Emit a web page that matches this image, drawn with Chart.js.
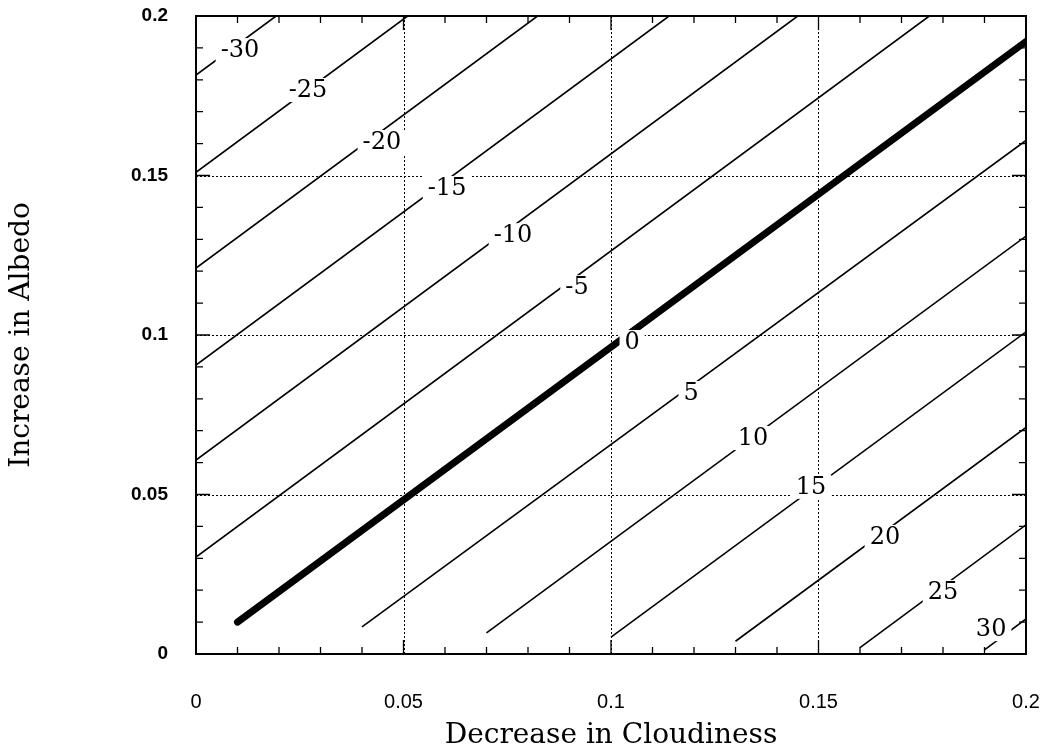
<!DOCTYPE html>
<html>
<head>
<meta charset="utf-8">
<script src="https://cdn.jsdelivr.net/npm/chart.js@4/dist/chart.umd.min.js"></script>
<style>
  body { margin: 0; background: #fff; }
  canvas { display: block; }
</style>
</head>
<body>
<canvas id="graf" width="1044" height="750"></canvas>
<script>
// contour levels and the ends of each contour line
const levels = [-30, -25, -20, -15, -10, -5, 0, 5, 10, 15, 20, 25, 30];
const startX = [0, 0, 0, 0, 0, 0, 0.01, 0.04, 0.07, 0.10, 0.13, 0.16, 0.19];
const startY = [0.1815, 0.151, 0.121, 0.0906, 0.0608, 0.0304, 0.01, 0.0085, 0.0066, 0.0053, 0.004, 0.002, 0.0013];
const endX = [0.0193, 0.051, 0.0823, 0.114, 0.145, 0.1767, 0.2, 0.2, 0.2, 0.2, 0.2, 0.2, 0.2];
const endY = [0.2, 0.2, 0.2, 0.2, 0.2, 0.2, 0.192, 0.161, 0.131, 0.101, 0.071, 0.0405, 0.011];

// where the level labels sit
const labelX = [0.0106, 0.027, 0.0448, 0.0605, 0.0764, 0.0918, 0.1051, 0.1193, 0.1342, 0.1482, 0.166, 0.18, 0.1916];
const labelY = [0.1893, 0.1768, 0.1605, 0.1461, 0.1313, 0.115, 0.0978, 0.0818, 0.0677, 0.0524, 0.0367, 0.0194, 0.0078];

// axes
const xTickValues = [0, 0.05, 0.1, 0.15, 0.2];
const xTickLabels = ["0", "0.05", "0.1", "0.15", "0.2"];
const yTickValues = [0, 0.05, 0.1, 0.15, 0.2];
const yTickLabels = ["0", "0.05", "0.1", "0.15", "0.2"];
const gridValues = [0.05, 0.1, 0.15];
const minorTicks = [0.01, 0.02, 0.03, 0.04, 0.06, 0.07, 0.08, 0.09, 0.11, 0.12, 0.13, 0.14, 0.16, 0.17, 0.18, 0.19];

const datasets = levels.map((v, i) => ({
    data: [{x: startX[i], y: startY[i]}, {x: endX[i], y: endY[i]}],
    showLine: true,
    pointRadius: 0,
    borderColor: "#000",
    borderWidth: v == 0 ? 7 : 1.6,     // nollinjen är tjock
    borderCapStyle: v == 0 ? "round" : "butt"
}));

const frame = {
    id: "frame",
    beforeDatasetsDraw(chart) {          // prickade rutnätslinjer
        const {ctx, chartArea: a, scales: {x, y}} = chart;
        ctx.save();
        ctx.strokeStyle = "#000";
        ctx.lineWidth = 1;
        ctx.setLineDash([2, 2]);
        ctx.beginPath();
        gridValues.forEach(v => {
            const px = Math.round(x.getPixelForValue(v)) + 0.5;
            ctx.moveTo(px, a.top); ctx.lineTo(px, a.bottom);
            const py = Math.round(y.getPixelForValue(v)) + 0.5;
            ctx.moveTo(a.left, py); ctx.lineTo(a.right, py);
        });
        ctx.stroke();
        ctx.restore();
    },
    afterDatasetsDraw(chart) {
        const {ctx, chartArea: a, scales: {x, y}} = chart;
        ctx.save();
        // level labels with a white gap behind them
        ctx.font = "24px 'DejaVu Serif'";
        ctx.textAlign = "center";
        ctx.textBaseline = "middle";
        levels.forEach((v, i) => {
            const t = String(v);
            const px = x.getPixelForValue(labelX[i]);
            const py = y.getPixelForValue(labelY[i]);
            const w = ctx.measureText(t).width;
            ctx.fillStyle = "#fff";
            ctx.fillRect(px - w / 2 - 5, py - 12, w + 10, 24);
            ctx.fillStyle = "#000";
            ctx.fillText(t, px, py + 1);
        });
        // ticks on all four sides, pointing inwards
        ctx.strokeStyle = "#000";
        ctx.lineWidth = 1.3;
        ctx.beginPath();
        const tick = (v, len) => {
            const px = x.getPixelForValue(v);
            ctx.moveTo(px, a.bottom); ctx.lineTo(px, a.bottom - len);
            ctx.moveTo(px, a.top); ctx.lineTo(px, a.top + len);
            const py = y.getPixelForValue(v);
            ctx.moveTo(a.left, py); ctx.lineTo(a.left + len, py);
            ctx.moveTo(a.right, py); ctx.lineTo(a.right - len, py);
        };
        minorTicks.forEach(v => tick(v, 7));
        gridValues.forEach(v => tick(v, 14));
        ctx.stroke();
        // frame
        ctx.lineWidth = 2;
        ctx.strokeRect(a.left, a.top, a.right - a.left, a.bottom - a.top);
        ctx.restore();
    }
};

// tar bort den extra marginalen som skalorna själva lägger till
function noPad(s) {
    s.paddingLeft = 0; s.paddingRight = 0; s.paddingTop = 0; s.paddingBottom = 0;
}

new Chart("graf", {
    type: "scatter",
    data: {datasets: datasets},
    options: {
        responsive: false,
        animation: false,
        layout: {padding: {left: 0, right: 18, top: 16, bottom: 0}},
        plugins: {legend: {display: false}, tooltip: {enabled: false}},
        scales: {
            x: {
                type: "linear", min: 0, max: 0.2,
                grid: {display: false, drawTicks: false},
                border: {display: false},
                afterBuildTicks: s => { s.ticks = xTickValues.map(v => ({value: v})); },
                afterFit: s => { s.height = 96; noPad(s); },
                ticks: {
                    padding: 36,
                    color: "#000",
                    maxRotation: 0,
                    font: {family: "'Liberation Sans'", size: 20},
                    callback: (v, i) => xTickLabels[i]
                },
                title: {
                    display: true, text: "Decrease in Cloudiness", color: "#000",
                    font: {family: "'DejaVu Serif'", size: 28, lineHeight: 1},
                    padding: {top: 0, bottom: 0}
                }
            },
            y: {
                type: "linear", min: 0, max: 0.2,
                grid: {display: false, drawTicks: false},
                border: {display: false},
                afterBuildTicks: s => { s.ticks = yTickValues.map(v => ({value: v})); },
                afterFit: s => { s.width = 196; noPad(s); },
                ticks: {
                    padding: 28,
                    color: "#000",
                    font: {family: "'Liberation Sans'", size: 19, weight: "bold"},
                    callback: (v, i) => yTickLabels[i]
                },
                title: {
                    display: true, text: "Increase in Albedo", color: "#000",
                    font: {family: "'DejaVu Serif'", size: 28, lineHeight: 1},
                    padding: {top: 8, bottom: 0}
                }
            }
        }
    },
    plugins: [frame]
});
</script>
</body>
</html>
